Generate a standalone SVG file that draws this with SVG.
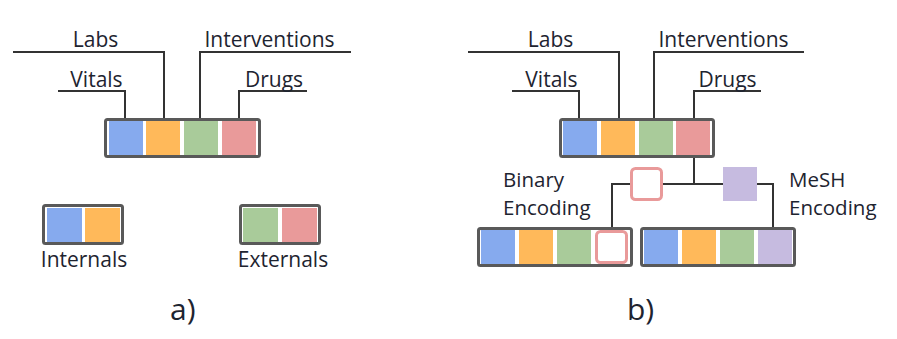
<svg xmlns="http://www.w3.org/2000/svg" width="897" height="339" viewBox="0 0 897 339">
<style>
text{font-family:"Open Sans","Noto Sans","Liberation Sans",sans-serif;font-size:21px;fill:#1e2430}
.m{text-anchor:middle}
.enc{font-size:20.5px}
.big{font-size:30px}
.box{fill:#fff;stroke:#595959;stroke-width:3}
.b{fill:#86aaee}.o{fill:#ffb95a}.g{fill:#a9cb9a}.r{fill:#e99a9a}.p{fill:#c6bbe0}
.hol{fill:#fff;stroke:#e99a9a;stroke-width:3}
.c{fill:none;stroke:#333;stroke-width:2}
</style>
<rect width="897" height="339" fill="#fff"/>
<g id="connectors">
<path class="c" d="M58 91H125V119M13 52H164V119M351 52H200V119M307 91H239V119"/>
<path class="c" d="M512 91H579V119M468 52H619V119M804 52H654V119M761 91H694V119"/>
<path class="c" d="M694 157V184M663 184H723M630 184H612V228M757 184H773V228"/>
</g>
<g id="a-labels">
<text class="m" x="95.5" y="47">Labs</text>
<text class="m" x="269.5" y="47">Interventions</text>
<text class="m" x="96.5" y="87">Vitals</text>
<text class="m" x="274" y="87">Drugs</text>
</g>
<g id="a-full">
<rect class="box" x="105.5" y="119.5" width="154" height="37" rx="2"/>
<rect class="b" x="109" y="121" width="34" height="34"/>
<rect class="o" x="146" y="121" width="34" height="34"/>
<rect class="g" x="184" y="121" width="34" height="34"/>
<rect class="r" x="222" y="121" width="34" height="34"/>
</g>
<g id="a-internals">
<rect class="box" x="43.5" y="205.5" width="79" height="38" rx="2"/>
<rect class="b" x="47" y="208" width="35" height="34"/>
<rect class="o" x="85" y="208" width="35" height="34"/>
<text class="m" x="84" y="267">Internals</text>
</g>
<g id="a-externals">
<rect class="box" x="240.5" y="205.5" width="79" height="38" rx="2"/>
<rect class="g" x="243" y="208" width="35" height="34"/>
<rect class="r" x="282" y="208" width="35" height="34"/>
<text class="m" x="283" y="267">Externals</text>
</g>
<g id="b-labels">
<text class="m" x="550.5" y="47">Labs</text>
<text class="m" x="723.5" y="47">Interventions</text>
<text class="m" x="551.5" y="87">Vitals</text>
<text class="m" x="727.5" y="87">Drugs</text>
</g>
<g id="b-full">
<rect class="box" x="560.5" y="119.5" width="153" height="37" rx="2"/>
<rect class="b" x="563" y="121" width="34" height="34"/>
<rect class="o" x="601" y="121" width="34" height="34"/>
<rect class="g" x="639" y="121" width="34" height="34"/>
<rect class="r" x="676" y="121" width="34" height="34"/>
</g>
<g id="binary-encoding">
<rect class="hol" x="631.5" y="168.5" width="30" height="31" rx="4"/>
<text class="enc" x="503" y="187">Binary</text>
<text class="enc" x="503" y="215">Encoding</text>
</g>
<g id="mesh-encoding">
<rect class="p" x="723" y="167" width="34" height="34"/>
<text class="enc" x="789" y="187">MeSH</text>
<text class="enc" x="789" y="215">Encoding</text>
</g>
<g id="b-binary">
<rect class="box" x="478.5" y="228.5" width="153" height="37" rx="2"/>
<rect class="b" x="481" y="230" width="34" height="34"/>
<rect class="o" x="519" y="230" width="34" height="34"/>
<rect class="g" x="557" y="230" width="34" height="34"/>
<rect class="hol" x="596.5" y="231.5" width="30" height="31" rx="4"/>
</g>
<g id="b-mesh">
<rect class="box" x="641.5" y="228.5" width="153" height="37" rx="2"/>
<rect class="b" x="644" y="230" width="34" height="34"/>
<rect class="o" x="682" y="230" width="34" height="34"/>
<rect class="g" x="720" y="230" width="34" height="34"/>
<rect class="p" x="758" y="230" width="34" height="34"/>
</g>
<g id="captions">
<text class="big" x="170" y="320">a)</text>
<text class="big" x="627" y="320">b)</text>
</g>
</svg>
